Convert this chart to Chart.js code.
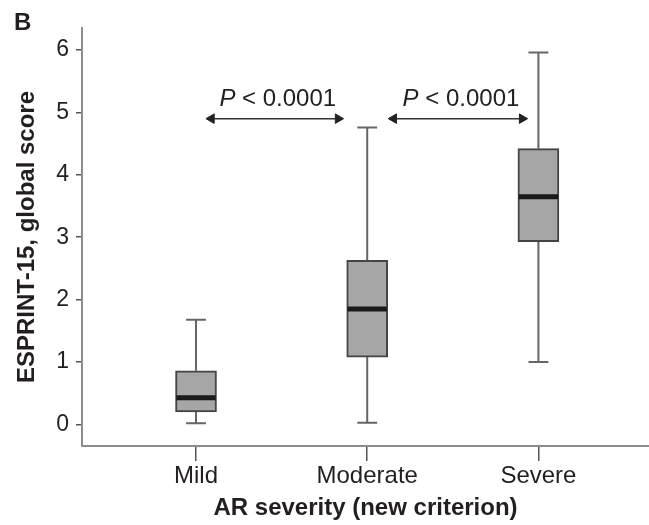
<!DOCTYPE html>
<html>
<head>
<meta charset="utf-8">
<script src="https://cdn.jsdelivr.net/npm/chart.js@4/dist/chart.umd.min.js"></script>
<style>
  html, body { margin: 0; padding: 0; background: #fff; overflow: hidden; }
  #wrap { width: 649px; height: 525px; position: relative; }
  canvas { display: block; }
</style>
</head>
<body>
<div id="wrap"><canvas id="chart"></canvas></div>
<script>
// groups on the x axis
const categories = ['Mild', 'Moderate', 'Severe'];
// box plot values
const whiskerLow  = [0.02, 0.03, 1.00];
const q1Values    = [0.20, 1.08, 2.93];
const medians     = [0.43, 1.85, 3.65];
const q3Values    = [0.86, 2.63, 4.42];
const whiskerHigh = [1.68, 4.76, 5.96];
const yTicks = [0, 1, 2, 3, 4, 5, 6];
// comparison arrows (from group, to group) and their labels
const arrowFrom = [0.09, 1.155];
const arrowTo   = [0.83, 1.905];
const arrowY    = [4.9, 4.9];
const pLabels   = ['< 0.0001', '< 0.0001'];

const FONT = "'Liberation Sans', Arial, Helvetica, sans-serif";
const TEXT = '#231f20';
const BOX_HALF = 0.12;   // half of box width, in x units
const CAP_HALF = 0.058;

// whiskers: vertical segments split by gaps
const whiskerPts = [];
const capPts = [];
const medianPts = [];
categories.forEach((c, i) => {
  whiskerPts.push({x: i, y: q3Values[i]}, {x: i, y: whiskerHigh[i]}, {x: i, y: null});
  whiskerPts.push({x: i, y: q1Values[i]}, {x: i, y: whiskerLow[i]}, {x: i, y: null});
  capPts.push({x: i - CAP_HALF, y: whiskerHigh[i]}, {x: i + CAP_HALF, y: whiskerHigh[i]}, {x: i, y: null});
  capPts.push({x: i - CAP_HALF, y: whiskerLow[i]}, {x: i + CAP_HALF, y: whiskerLow[i]}, {x: i, y: null});
  medianPts.push({x: i - BOX_HALF + 0.005, y: medians[i]}, {x: i + BOX_HALF - 0.005, y: medians[i]}, {x: i, y: null});
});

const arrowSets = arrowFrom.map((a, k) => ({
  type: 'line',
  data: [{x: a, y: arrowY[k]}, {x: arrowTo[k], y: arrowY[k]}],
  borderColor: '#333',
  borderWidth: 1.5,
  pointStyle: 'triangle',
  pointRotation: [-90, 90],
  pointRadius: 5.5,
  pointBackgroundColor: '#222',
  pointBorderColor: '#222',
  pointBorderWidth: 1,
  order: 0
}));

// draws the P labels and the panel letter
const textPlugin = {
  id: 'texts',
  afterDraw(chart) {
    const ctx = chart.ctx;
    const xs = chart.scales.x, ys = chart.scales.y;
    ctx.save();
    ctx.fillStyle = TEXT;
    ctx.textBaseline = 'alphabetic';
    arrowFrom.forEach((a, k) => {
      const cx = xs.getPixelForValue((a + arrowTo[k]) / 2) + 3;
      const by = ys.getPixelForValue(arrowY[k]) - 13;
      ctx.font = 'italic 24px ' + FONT;
      const wP = ctx.measureText('P').width;
      ctx.font = '24px ' + FONT;
      const rest = ' ' + pLabels[k];
      const wR = ctx.measureText(rest).width;
      const x0 = cx - (wP + wR) / 2;
      ctx.font = 'italic 24px ' + FONT;
      ctx.textAlign = 'left';
      ctx.fillText('P', x0, by);
      ctx.font = '24px ' + FONT;
      ctx.fillText(rest, x0 + wP, by);
    });
    ctx.font = 'bold 24px ' + FONT;
    ctx.textAlign = 'left';
    ctx.fillText('B', 14, 30);
    ctx.restore();
  }
};

new Chart(document.getElementById('chart'), {
  data: {
    datasets: [
      {
        type: 'scatter',
        data: medianPts,
        showLine: true,
        borderColor: '#1a1a1a',
        borderWidth: 5,
        pointRadius: 0,
        order: 1
      },
      {
        type: 'bar',
        data: categories.map((c, i) => ({x: i, y: [q1Values[i], q3Values[i]]})),
        backgroundColor: '#a6a6a6',
        borderColor: '#444',
        borderWidth: 2,
        borderSkipped: false,
        barThickness: 41,
        order: 2
      },
      {
        type: 'scatter',
        data: whiskerPts,
        showLine: true,
        borderColor: '#666',
        borderWidth: 2,
        pointRadius: 0,
        order: 3
      },
      {
        type: 'scatter',
        data: capPts,
        showLine: true,
        borderColor: '#666',
        borderWidth: 2,
        pointRadius: 0,
        order: 3
      },
      ...arrowSets
    ]
  },
  options: {
    responsive: true,
    maintainAspectRatio: false,
    animation: false,
    events: [],
    layout: { autoPadding: false, padding: { top: 28, right: 0, left: 0, bottom: 0 } },
    plugins: { legend: { display: false }, tooltip: { enabled: false } },
    scales: {
      x: {
        type: 'linear',
        position: 'bottom',
        offset: false,
        min: -0.666,
        max: 2.646,
        afterBuildTicks: s => { s.ticks = categories.map((c, i) => ({value: i})); },
        afterFit: s => { s.height = 79; },
        ticks: {
          callback: v => categories[v],
          color: TEXT,
          font: { family: FONT, size: 24 },
          padding: 1,
          maxRotation: 0,
          autoSkip: false
        },
        grid: { offset: false, drawOnChartArea: false, tickLength: 15, color: '#555', lineWidth: 1.5 },
        border: { display: true, color: '#8c8c8c', width: 2 },
        title: {
          display: true,
          text: 'AR severity (new criterion)',
          color: TEXT,
          font: { family: FONT, size: 24, weight: 'bold' },
          padding: { top: 0, bottom: 2 }
        }
      },
      y: {
        type: 'linear',
        min: -0.344,
        max: 6.352,
        afterBuildTicks: s => { s.ticks = yTicks.map(v => ({value: v})); },
        afterFit: s => { s.width = 82; },
        ticks: {
          color: TEXT,
          font: { family: FONT, size: 23 },
          padding: 7
        },
        grid: { drawOnChartArea: false, tickLength: 6, color: '#555', lineWidth: 1.5 },
        border: { display: true, color: '#8c8c8c', width: 2 },
        title: {
          display: true,
          text: 'ESPRINT-15, global score',
          color: TEXT,
          font: { family: FONT, size: 24, weight: 'bold' },
          padding: { top: 13, bottom: 0 }
        }
      }
    }
  },
  plugins: [textPlugin]
});
</script>
</body>
</html>
